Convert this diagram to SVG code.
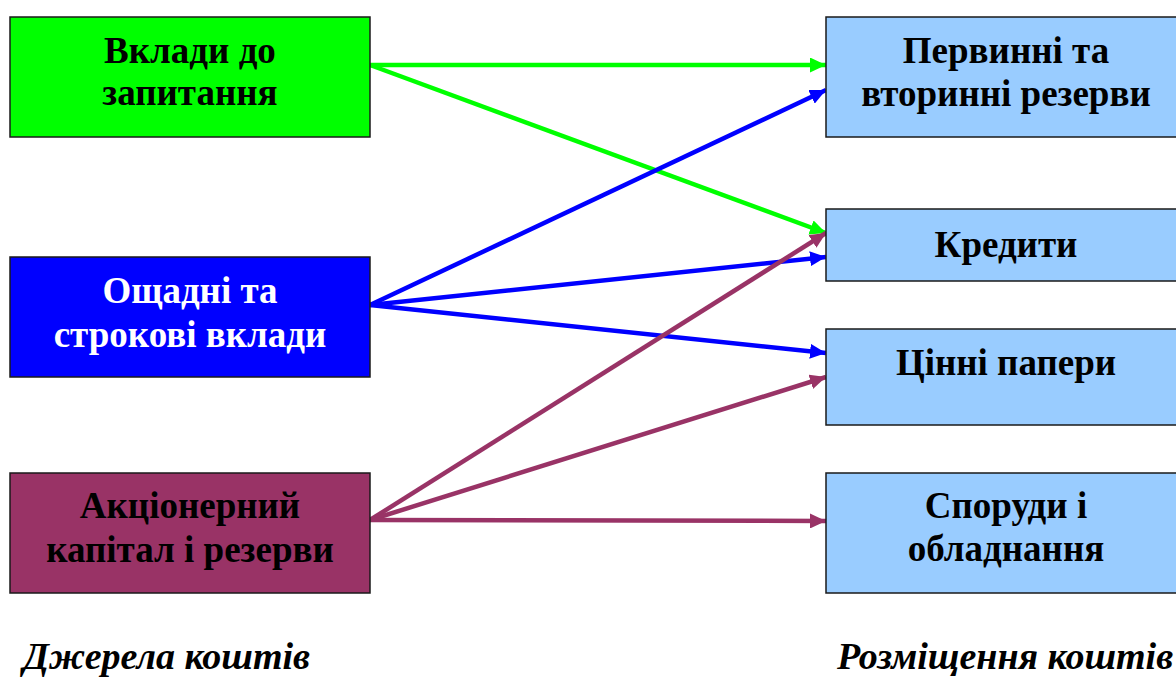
<svg xmlns="http://www.w3.org/2000/svg" width="1176" height="677" viewBox="0 0 1176 677">
<style>
.box{stroke:#1a1a1a;stroke-width:1.5}
.t{font-family:'Liberation Serif','DejaVu Serif',serif;font-weight:700;font-size:37px;text-anchor:middle}
.cap{font-family:'Liberation Serif','DejaVu Serif',serif;font-weight:700;font-style:italic;font-size:38px}
.c{fill:none;stroke-width:4.5}
</style>
<defs>
<marker id="ag" viewBox="0 0 16 15" refX="16" refY="7.5" markerWidth="16" markerHeight="15" markerUnits="userSpaceOnUse" orient="auto"><path d="M0,0 L16,7.5 L0,15 z" fill="#00ff00"/></marker>
<marker id="ab" viewBox="0 0 16 15" refX="16" refY="7.5" markerWidth="16" markerHeight="15" markerUnits="userSpaceOnUse" orient="auto"><path d="M0,0 L16,7.5 L0,15 z" fill="#0000ff"/></marker>
<marker id="ap" viewBox="0 0 16 15" refX="16" refY="7.5" markerWidth="16" markerHeight="15" markerUnits="userSpaceOnUse" orient="auto"><path d="M0,0 L16,7.5 L0,15 z" fill="#993366"/></marker>
</defs>
<rect width="1176" height="677" fill="#ffffff"/>
<g id="connectors">
<line class="c" x1="370" y1="65" x2="826" y2="65" stroke="#00ff00" marker-end="url(#ag)"/>
<line class="c" x1="370" y1="65" x2="826" y2="233" stroke="#00ff00" marker-end="url(#ag)"/>
<line class="c" x1="370" y1="305" x2="826" y2="90" stroke="#0000ff" marker-end="url(#ab)"/>
<line class="c" x1="370" y1="305" x2="826" y2="257" stroke="#0000ff" marker-end="url(#ab)"/>
<line class="c" x1="370" y1="305" x2="826" y2="353" stroke="#0000ff" marker-end="url(#ab)"/>
<line class="c" x1="370" y1="520" x2="826" y2="233" stroke="#993366" marker-end="url(#ap)"/>
<line class="c" x1="370" y1="520" x2="826" y2="377" stroke="#993366" marker-end="url(#ap)"/>
<line class="c" x1="370" y1="520" x2="826" y2="521" stroke="#993366" marker-end="url(#ap)"/>
</g>
<g id="src1"><rect class="box" x="10" y="17" width="360" height="120" fill="#00ff00"/><text class="t" x="190" y="63">Вклади до</text><text class="t" x="190" y="105">запитання</text></g>
<g id="src2"><rect class="box" x="10" y="257" width="360" height="120" fill="#0000ff"/><text class="t" x="190" y="303" fill="#ffffff">Ощадні та</text><text class="t" x="190" y="347" fill="#ffffff">строкові вклади</text></g>
<g id="src3"><rect class="box" x="10" y="473" width="360" height="120" fill="#993366"/><text class="t" x="190" y="518">Акціонерний</text><text class="t" x="190" y="562">капітал і резерви</text></g>
<g id="dst1"><rect class="box" x="826" y="17" width="360" height="120" fill="#99ccff"/><text class="t" x="1006" y="63">Первинні та</text><text class="t" x="1006" y="106">вторинні резерви</text></g>
<g id="dst2"><rect class="box" x="826" y="209" width="360" height="72" fill="#99ccff"/><text class="t" x="1006" y="257">Кредити</text></g>
<g id="dst3"><rect class="box" x="826" y="329" width="360" height="96" fill="#99ccff"/><text class="t" x="1006" y="375">Цінні папери</text></g>
<g id="dst4"><rect class="box" x="826" y="473" width="360" height="120" fill="#99ccff"/><text class="t" x="1006" y="518">Споруди і</text><text class="t" x="1006" y="561">обладнання</text></g>
<text class="cap" x="23" y="669">Джерела коштів</text>
<text class="cap" x="837" y="669">Розміщення коштів</text>
</svg>
